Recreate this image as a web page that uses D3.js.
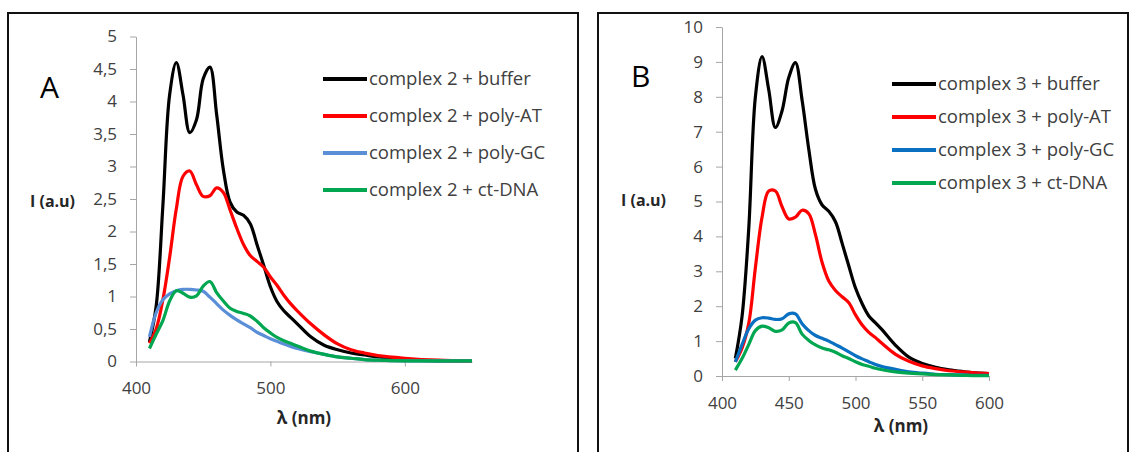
<!DOCTYPE html>
<html>
<head>
<meta charset="utf-8">
<script src="https://d3js.org/d3.v7.min.js"></script>
<style>
    body { margin: 0; background: #fff; }
    svg { display: block; }
    text { font-family: "Open Sans", sans-serif; }
</style>
</head>
<body>
<div id="chart"></div>
<script>
// wavelengths (nm)
let waveA = [410, 415, 420, 425, 430, 435, 440, 445, 450, 455, 460, 465, 470, 475, 480, 485, 490, 495, 500, 505, 510, 515, 520,
    530, 540, 550, 560, 570, 580, 600, 625, 650]
let waveB = [410, 415, 420, 425, 430, 435, 440, 445, 450, 455, 460, 465, 470, 475, 480, 485, 490, 495, 500, 505, 510, 515, 520,
    530, 540, 550, 560, 570, 580, 590, 600]

// panel A : complex 2
let bufferA = [0.3, 0.85, 2.4, 4.1, 4.6, 4.1, 3.52, 3.72, 4.35, 4.53, 3.8, 2.95, 2.45, 2.3, 2.25, 2.12, 1.8, 1.48, 1.15, 0.92, 0.78, 0.68, 0.58,
    0.38, 0.25, 0.18, 0.13, 0.1, 0.07, 0.03, 0.01, 0.01]
let polyATA = [0.28, 0.5, 0.95, 1.6, 2.35, 2.85, 2.93, 2.72, 2.54, 2.55, 2.67, 2.6, 2.33, 2.05, 1.8, 1.63, 1.54, 1.45, 1.3, 1.17, 1.02, 0.89, 0.78,
    0.58, 0.41, 0.27, 0.18, 0.13, 0.09, 0.05, 0.02, 0.01]
let polyGCA = [0.38, 0.75, 0.95, 1.04, 1.09, 1.11, 1.11, 1.1, 1.08, 0.99, 0.89, 0.79, 0.71, 0.64, 0.58, 0.52, 0.45, 0.4, 0.35, 0.31, 0.27, 0.23, 0.2,
    0.15, 0.11, 0.07, 0.05, 0.03, 0.02, 0.01, 0.01, 0.01]
let ctDNAA = [0.2, 0.42, 0.63, 0.93, 1.09, 1.05, 0.99, 1.01, 1.16, 1.23, 1.06, 0.93, 0.82, 0.77, 0.74, 0.7, 0.62, 0.52, 0.44, 0.37, 0.32, 0.28, 0.24,
    0.16, 0.11, 0.07, 0.05, 0.03, 0.02, 0.01, 0.01, 0.01]

// panel B : complex 3
let bufferB = [0.5, 1.7, 4.2, 8.0, 9.15, 8.2, 7.12, 7.6, 8.55, 8.98, 7.9, 6.5, 5.35, 4.9, 4.72, 4.42, 3.8, 3.15, 2.52, 2.07, 1.72, 1.52, 1.32,
    0.88, 0.54, 0.36, 0.25, 0.18, 0.13, 0.09, 0.07]
let polyATB = [0.41, 0.8, 1.5, 3.1, 4.55, 5.3, 5.3, 4.85, 4.5, 4.55, 4.75, 4.65, 4.05, 3.25, 2.72, 2.45, 2.27, 2.1, 1.75, 1.46, 1.25, 1.1, 0.93,
    0.62, 0.42, 0.29, 0.21, 0.15, 0.12, 0.09, 0.07]
let polyGCB = [0.4, 0.9, 1.35, 1.6, 1.67, 1.66, 1.62, 1.64, 1.78, 1.78, 1.5, 1.3, 1.16, 1.08, 1.0, 0.9, 0.8, 0.69, 0.58, 0.49, 0.41, 0.33, 0.27,
    0.19, 0.12, 0.08, 0.05, 0.04, 0.03, 0.02, 0.02]
let ctDNAB = [0.17, 0.5, 0.9, 1.3, 1.43, 1.38, 1.28, 1.32, 1.52, 1.53, 1.2, 1.02, 0.89, 0.8, 0.75, 0.68, 0.58, 0.5, 0.41, 0.33, 0.28, 0.22, 0.18,
    0.12, 0.08, 0.06, 0.04, 0.03, 0.02, 0.01, 0.01]

// legend + ticks
let labelsA = ["complex 2 + buffer", "complex 2 + poly-AT", "complex 2 + poly-GC", "complex 2 + ct-DNA"]
let labelsB = ["complex 3 + buffer", "complex 3 + poly-AT", "complex 3 + poly-GC", "complex 3 + ct-DNA"]
let xTicksA = [400, 500, 600]
let yTicksA = [0, 0.5, 1, 1.5, 2, 2.5, 3, 3.5, 4, 4.5, 5]
let yLabelsA = ["0", "0,5", "1", "1,5", "2", "2,5", "3", "3,5", "4", "4,5", "5"]
let xTicksB = [400, 450, 500, 550, 600]
let yTicksB = [0, 1, 2, 3, 4, 5, 6, 7, 8, 9, 10]

let colorsA = ["#000000", "#ff0000", "#5a8fd8", "#00a650"]
let colorsB = ["#000000", "#ff0000", "#0a70c2", "#00a650"]

var svg = d3.select("#chart")
    .append("svg")
    .attr("width", 1131)
    .attr("height", 452)

drawPanel({
    frame: [8, 13, 570],
    letter: "A", letterPos: [40, 98],
    x: d3.scaleLinear().domain([400, 650]).range([136, 472]),
    y: d3.scaleLinear().domain([0, 5]).range([361.5, 36.5]),
    xTicks: xTicksA, yTicks: yTicksA, yLabels: yLabelsA,
    xPad: 15, wave: waveA,
    series: [bufferA, polyATA, polyGCA, ctDNAA], labels: labelsA, colors: colorsA,
    legend: { x: 323, y: 79, step: 37 },
    yTitle: [30, 201], xTitle: [304, 418]
})

drawPanel({
    frame: [598, 13, 530],
    letter: "B", letterPos: [631, 87],
    x: d3.scaleLinear().domain([400, 600]).range([722, 989]),
    y: d3.scaleLinear().domain([0, 10]).range([376, 27]),
    xTicks: xTicksB, yTicks: yTicksB, yLabels: yTicksB.map(String),
    xPad: 16, wave: waveB,
    series: [bufferB, polyATB, polyGCB, ctDNAB], labels: labelsB, colors: colorsB,
    legend: { x: 892, y: 84, step: 33 },
    yTitle: [621, 200], xTitle: [901, 426]
})

function drawPanel(p) {
    var g = svg.append("g")

    // outer box
    g.append("rect")
        .attr("x", p.frame[0]).attr("y", p.frame[1])
        .attr("width", p.frame[2]).attr("height", 480)
        .attr("fill", "none")
        .attr("stroke", "#111")
        .attr("stroke-width", 2)

    g.append("text")
        .attr("x", p.letterPos[0]).attr("y", p.letterPos[1])
        .style("font-size", "30px")
        .attr("fill", "#000")
        .text(p.letter)

    var x = p.x, y = p.y
    var y0 = y.range()[0]

    // axes
    var xAxis = g.append("g")
        .attr("transform", "translate(0," + y0 + ")")
        .call(d3.axisBottom(x).tickValues(p.xTicks).tickSize(5).tickPadding(p.xPad).tickSizeOuter(0))
    var yAxis = g.append("g")
        .attr("transform", "translate(" + x.range()[0] + ",0)")
        .call(d3.axisLeft(y).tickValues(p.yTicks).tickSize(6).tickPadding(13).tickSizeOuter(0)
            .tickFormat(function (d, i) { return p.yLabels[i] }))
    ;[xAxis, yAxis].forEach(function (a) {
        a.select(".domain").attr("stroke", "#a6a6a6")
        a.selectAll(".tick line").attr("stroke", "#a6a6a6")
        a.selectAll("text")
            .style("font-size", "17px")
            .attr("fill", "#404040")
    })

    // curves
    var line = d3.line()
        .x(function (d) { return x(d[0]) })
        .y(function (d) { return y(d[1]) })
        .curve(d3.curveCatmullRom.alpha(0.5))
    p.series.forEach(function (vals, i) {
        var pts = p.wave.map(function (w, j) { return [w, vals[j]] })
        g.append("path")
            .datum(pts)
            .attr("d", line)
            .attr("fill", "none")
            .attr("stroke", p.colors[i])
            .attr("stroke-width", 3.2)
            .attr("stroke-linejoin", "round")
    })

    // legend
    p.labels.forEach(function (lab, i) {
        var ly = p.legend.y + i * p.legend.step
        g.append("line")
            .attr("x1", p.legend.x).attr("x2", p.legend.x + 44)
            .attr("y1", ly).attr("y2", ly)
            .attr("stroke", p.colors[i])
            .attr("stroke-width", 4)
        g.append("text")
            .attr("x", p.legend.x + 46).attr("y", ly)
            .attr("dy", "0.35em")
            .style("font-size", "18.5px")
            .attr("fill", "#404040")
            .text(lab)
    })

    // axis titles
    g.append("text")
        .attr("x", p.yTitle[0]).attr("y", p.yTitle[1])
        .attr("dy", "0.35em")
        .style("font-size", "16px")
        .style("font-weight", "bold")
        .attr("fill", "#262626")
        .text("I (a.u)")
    g.append("text")
        .attr("x", p.xTitle[0]).attr("y", p.xTitle[1])
        .attr("dy", "0.35em")
        .attr("text-anchor", "middle")
        .style("font-size", "17px")
        .style("font-weight", "bold")
        .attr("fill", "#262626")
        .text("λ (nm)")
}
</script>
</body>
</html>
